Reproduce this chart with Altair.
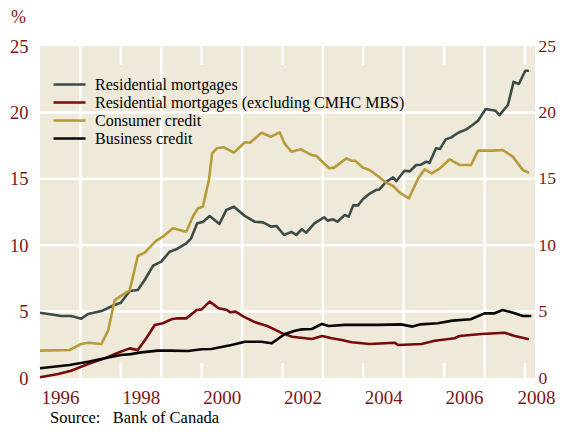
import altair as alt
import pandas as pd

# ---------------- data ----------------
series_names = [
    "Residential mortgages",
    "Residential mortgages (excluding CMHC MBS)",
    "Consumer credit",
    "Business credit",
]
series_colors = ["#3C4A48", "#760A0C", "#B69B38", "#080808"]

res_years = [1996.0, 1996.25, 1996.53, 1996.77, 1997.02, 1997.19, 1997.52, 1997.84, 1998.0, 1998.22,
             1998.42, 1998.59, 1998.8, 1999.0, 1999.21, 1999.37, 1999.62, 1999.74, 1999.89, 2000.03,
             2000.2, 2000.44, 2000.61, 2000.8, 2001.07, 2001.31, 2001.52, 2001.72, 2001.85, 2002.04,
             2002.22, 2002.34, 2002.48, 2002.59, 2002.79, 2003.03, 2003.12, 2003.25, 2003.36, 2003.54,
             2003.64, 2003.75, 2003.87, 2004.0, 2004.15, 2004.32, 2004.4, 2004.57, 2004.74, 2004.82,
             2005.02, 2005.15, 2005.31, 2005.43, 2005.56, 2005.64, 2005.8, 2005.9, 2006.04, 2006.18,
             2006.35, 2006.55, 2006.67, 2006.84, 2007.03, 2007.17, 2007.27, 2007.37, 2007.58, 2007.72,
             2007.85, 2008.01, 2008.1]
res_vals = [4.92, 4.8, 4.67, 4.67, 4.47, 4.82, 5.04, 5.5, 5.67, 6.55,
            6.63, 7.38, 8.46, 8.76, 9.51, 9.69, 10.14, 10.52, 11.65, 11.75,
            12.2, 11.6, 12.65, 12.9, 12.2, 11.77, 11.72, 11.4, 11.45, 10.77,
            11.0, 10.77, 11.2, 10.94, 11.65, 12.1, 11.85, 11.95, 11.77, 12.27,
            12.15, 13.0, 13.0, 13.5, 13.86, 14.16, 14.2, 14.78, 15.11, 14.83,
            15.61, 15.56, 16.04, 16.06, 16.29, 16.2, 17.3, 17.25, 17.97, 18.12,
            18.47, 18.72, 18.98, 19.37, 20.26, 20.18, 20.13, 19.8, 20.56, 22.3,
            22.14, 23.14, 23.14]

resx_years = [1996.0, 1996.45, 1996.77, 1997.19, 1997.6, 1997.93, 1998.22, 1998.42, 1998.63, 1998.84,
              1999.04, 1999.25, 1999.4, 1999.62, 1999.88, 2000.0, 2000.2, 2000.42, 2000.63, 2000.7,
              2000.84, 2001.04, 2001.29, 2001.62, 2001.75, 2002.0, 2002.24, 2002.73, 2002.98, 2003.22,
              2003.47, 2003.71, 2004.16, 2004.78, 2004.86, 2005.44, 2005.77, 2006.26, 2006.38, 2006.92,
              2007.5, 2007.75, 2008.1]
resx_vals = [0.05, 0.3, 0.55, 1.05, 1.48, 1.9, 2.23, 2.1, 2.99, 3.99,
             4.12, 4.42, 4.5, 4.49, 5.12, 5.17, 5.75, 5.25, 5.12, 4.95,
             5.0, 4.62, 4.24, 3.92, 3.74, 3.36, 3.11, 2.94, 3.16, 2.99,
             2.86, 2.69, 2.56, 2.66, 2.48, 2.56, 2.81, 2.99, 3.16, 3.31,
             3.41, 3.16, 2.91]

cons_years = [1996.0, 1996.73, 1997.02, 1997.19, 1997.52, 1997.69, 1997.85, 1998.1, 1998.22, 1998.42,
              1998.59, 1998.87, 1999.04, 1999.29, 1999.62, 1999.79, 1999.91, 2000.03, 2000.18, 2000.26,
              2000.38, 2000.55, 2000.8, 2001.07, 2001.2, 2001.48, 2001.72, 2001.93, 2002.05, 2002.22,
              2002.46, 2002.71, 2002.84, 2003.16, 2003.28, 2003.58, 2003.71, 2003.8, 2003.99, 2004.15,
              2004.36, 2004.57, 2004.74, 2004.9, 2005.13, 2005.36, 2005.52, 2005.69, 2005.9, 2006.14,
              2006.38, 2006.67, 2006.84, 2007.21, 2007.45, 2007.7, 2007.95, 2008.1]
cons_vals = [2.06, 2.11, 2.56, 2.66, 2.56, 3.61, 5.87, 6.37, 6.6, 9.19,
             9.44, 10.32, 10.64, 11.27, 11.02, 12.2, 12.78, 12.9, 14.9, 16.92,
             17.3, 17.37, 16.97, 17.75, 17.72, 18.47, 18.17, 18.5, 17.67, 17.04,
             17.22, 16.8, 16.72, 15.79, 15.84, 16.54, 16.36, 16.36, 15.85, 15.66,
             15.21, 14.71, 14.46, 13.96, 13.53, 15.04, 15.71, 15.41, 15.79, 16.47,
             16.04, 16.04, 17.12, 17.12, 17.17, 16.67, 15.66, 15.46]

bus_years = [1996.0, 1996.73, 1997.19, 1997.6, 1998.0, 1998.25, 1998.5, 1998.92, 1999.25, 1999.66,
             2000.0, 2000.24, 2000.74, 2001.07, 2001.48, 2001.73, 2002.06, 2002.31, 2002.48, 2002.73,
             2002.98, 2003.14, 2003.55, 2004.37, 2004.93, 2005.22, 2005.42, 2005.84, 2006.21, 2006.66,
             2007.0, 2007.25, 2007.45, 2007.75, 2007.95, 2008.16]
bus_vals = [0.73, 0.98, 1.23, 1.48, 1.73, 1.8, 1.93, 2.06, 2.06, 2.03,
            2.16, 2.18, 2.48, 2.73, 2.73, 2.61, 3.31, 3.56, 3.66, 3.69,
            4.07, 3.92, 4.0, 4.0, 4.04, 3.87, 4.04, 4.12, 4.32, 4.42,
            4.87, 4.87, 5.12, 4.87, 4.67, 4.67]

label_years = [1996, 1998, 2000, 2002, 2004, 2006, 2008]
grid_years = [1997, 1999, 2001, 2003, 2005, 2007]
short_tick_years = [1998, 2000, 2002, 2004, 2006, 2008]
y_ticks = [0, 5, 10, 15, 20, 25]
y_grid = [5, 10, 15, 20]
source_text = "Source:\u00a0\u00a0 Bank of Canada"

# ---------------- tables ----------------
rows = []
for name, ys, vs in zip(series_names,
                        [res_years, resx_years, cons_years, bus_years],
                        [res_vals, resx_vals, cons_vals, bus_vals]):
    for i, (yr, v) in enumerate(zip(ys, vs)):
        rows.append({"series": name, "year": yr, "value": v, "order": i})
df = pd.DataFrame(rows)

grid_x_df = pd.DataFrame({"year": grid_years})
tick_df = pd.DataFrame({"year": short_tick_years})
grid_y_df = pd.DataFrame({"value": y_grid})

# ---------------- styling ----------------
W, H = 495, 332
BG = "#EEE9D9"
LABEL_RED = "#7A1619"
FONT = "Liberation Serif"

xscale = alt.Scale(domain=[1996, 2008.25], nice=False, zero=False)
yscale = alt.Scale(domain=[0, 25], nice=False, zero=True)

x_axis = alt.Axis(values=label_years, format="d",
                  labelOffset={"condition": {"test": "datum.value >= 2008", "value": 11},
                               "value": 20},
                  ticks=False, grid=False,
                  domain=False, labelPadding=10, labelFont=FONT, labelFontSize=19,
                  labelColor=LABEL_RED, labelFlush=False, labelOverlap=False, title=None)
X = alt.X("year:Q", scale=xscale, axis=x_axis)

left_axis = alt.Axis(values=y_ticks, ticks=False, grid=False, domain=False, labelPadding=12,
                     labelFont=FONT, labelFontSize=18.5, labelColor=LABEL_RED,
                     title="%", titleAngle=0, titleX=-22, titleY=-24, titleAlign="center",
                     titleBaseline="alphabetic", titleFont=FONT, titleFontSize=18,
                     titleFontWeight="normal", titleColor=LABEL_RED)
right_axis = alt.Axis(values=y_ticks, orient="right", ticks=False, grid=False, domain=False,
                      labelPadding=3, labelFont=FONT, labelFontSize=17.5, labelColor=LABEL_RED,
                      title=None)

vgrid = alt.Chart(grid_x_df).mark_rule(color="white", strokeWidth=2.5).encode(x=X)
hgrid = alt.Chart(grid_y_df).mark_rule(color="white", strokeWidth=2.5).encode(
    y=alt.Y("value:Q", scale=yscale, axis=None))
top_ticks = alt.Chart(tick_df).mark_rule(color="white", strokeWidth=2.5).encode(
    x=X, y=alt.value(0), y2=alt.value(19))
bot_ticks = alt.Chart(tick_df).mark_rule(color="white", strokeWidth=2.5).encode(
    x=X, y=alt.value(H - 15), y2=alt.value(H))

lines = alt.Chart(df).mark_line(strokeWidth=2.6, strokeJoin="round").encode(
    x=X,
    y=alt.Y("value:Q", scale=yscale, axis=left_axis),
    color=alt.Color("series:N",
                    scale=alt.Scale(domain=series_names, range=series_colors),
                    legend=alt.Legend(title=None, orient="none", legendX=19, legendY=28,
                                      direction="vertical", symbolType="M-2,0H2",
                                      symbolSize=256, symbolStrokeWidth=2.4,
                                      labelFont=FONT, labelFontSize=16, labelColor="black",
                                      labelOffset=16, padding=1, rowPadding=0,
                                      labelLimit=400)),
    order=alt.Order("order:Q"),
)

right = alt.Chart(df).mark_line(opacity=0).encode(
    x=X,
    y=alt.Y("value:Q", scale=yscale, axis=right_axis),
    detail="series:N",
)

chart = alt.layer(vgrid, hgrid, top_ticks, bot_ticks, lines, right).resolve_scale(
    y="independent"
).properties(
    width=W, height=H,
    autosize=alt.AutoSizeParams(type="none"),
    padding={"left": 32, "top": 38, "right": 21, "bottom": 50},
    background="white",
    title=alt.TitleParams(source_text, orient="bottom", anchor="start", frame="group",
                          font=FONT, fontSize=16.5, fontWeight="normal", color="black",
                          dx=10, offset=2.5),
).configure_view(fill=BG, strokeWidth=0)

chart.save("out.html", embed_options={"renderer": "svg", "actions": False})
